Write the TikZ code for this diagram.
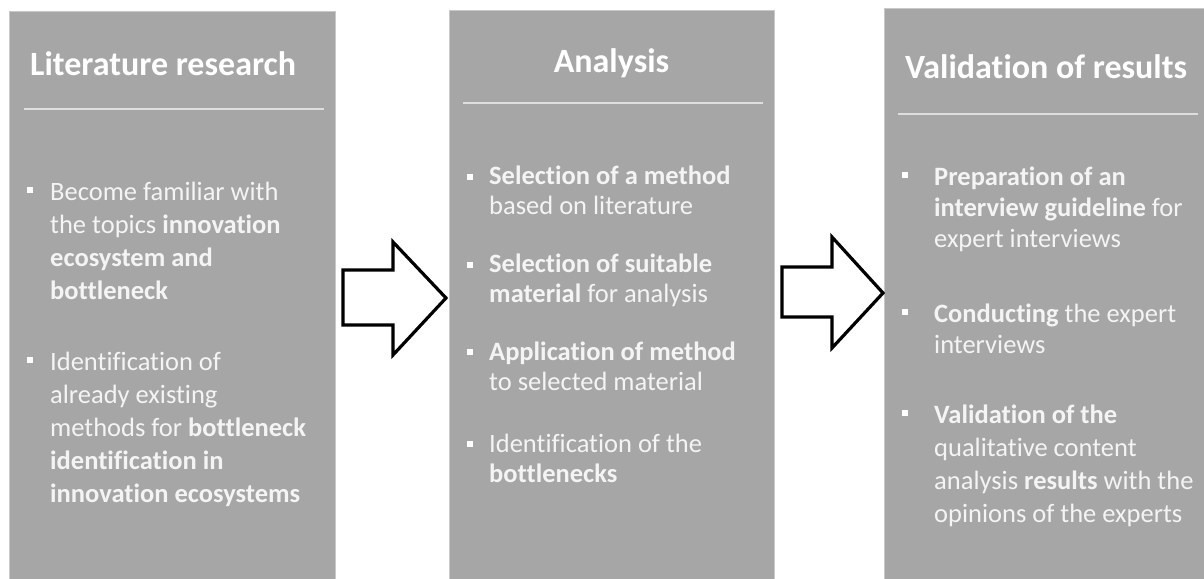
\documentclass[tikz,border=0pt]{standalone}
\usepackage{fontspec}
\setmainfont{Carlito}[Ligatures={NoCommon}]
\definecolor{panelgrey}{HTML}{A6A6A6}
\definecolor{paneledge}{HTML}{C8C8C8}
\definecolor{rulegrey}{HTML}{DEDEDE}
\definecolor{bodytext}{HTML}{F4F4F4}
\begin{document}
\begin{tikzpicture}[x=1pt,y=-1pt,
  panel/.style={fill=panelgrey, draw=paneledge, line width=0.8pt},
  title/.style={anchor=base west, inner sep=0pt, text=white,
    font=\fontsize{34}{40}\selectfont\bfseries},
  % multi-line items are placed by the baseline of their last line
  item/.style={anchor=base west, inner sep=0pt, align=left, text=bodytext,
    font=\fontsize{26.5}{33}\selectfont},
  tightitem/.style={item, font=\fontsize{26.5}{30}\selectfont},
  miditem/.style={item, font=\fontsize{26.5}{31}\selectfont},
  separator/.style={draw=rulegrey, line width=1.5pt},
  bulletsq/.style={fill=white, rectangle, minimum size=6pt, inner sep=0pt},
  blockarrow/.style={draw=black, fill=white, line width=3.2pt, line join=miter}]

\useasboundingbox (0,0) rectangle (1204,578);

% three grey panels
\path[panel] (9,11) rectangle (335,579);
\path[panel] (449,10) rectangle (774,579);
\path[panel] (884,8) rectangle (1205,579);

% headings and rules
\node[title] (t1) at (30,75) {Literature research};
\node[title, anchor=base] (t2) at (611.5,72) {Analysis};
\node[title] (t3) at (905,78) {Validation of results};
\draw[separator] (24,109) -- (324,109);
\draw[separator] (463,103) -- (763,103);
\draw[separator] (898,114) -- (1198,114);

% panel 1
\node[bulletsq] (b11) at (30,190) {};
\node[item] (i11) at (50,299) {Become familiar with\\the topics \textbf{innovation}\\\textbf{ecosystem and}\\\textbf{bottleneck}};
\node[bulletsq] (b12) at (30,360) {};
\node[item] (i12) at (50,502) {Identification of\\already existing\\methods for \textbf{bottleneck}\\\textbf{identification in}\\\textbf{innovation ecosystems}};

% panel 2
\node[bulletsq] (b21) at (469.5,177) {};
\node[tightitem] (i21) at (489,214) {\textbf{Selection of a method}\\based on literature};
\node[bulletsq] (b22) at (469.5,265) {};
\node[tightitem] (i22) at (489,302) {\textbf{Selection of suitable}\\\textbf{material} for analysis};
\node[bulletsq] (b23) at (469.5,352) {};
\node[tightitem] (i23) at (489,390) {\textbf{Application of method}\\to selected material};
\node[bulletsq] (b24) at (469.5,444) {};
\node[tightitem] (i24) at (489,482) {Identification of the\\\textbf{bottlenecks}};

% panel 3
\node[bulletsq] (b31) at (905,175) {};
\node[miditem] (i31) at (934,247) {\textbf{Preparation of an}\\\textbf{interview guideline} for\\expert interviews};
\node[bulletsq] (b32) at (905,312) {};
\node[miditem] (i32) at (934,353) {\textbf{Conducting} the expert\\interviews};
\node[bulletsq] (b33) at (905,413) {};
\node[item] (i33) at (934,522) {\textbf{Validation of the}\\qualitative content\\analysis \textbf{results} with the\\opinions of the experts};

% block arrows between the panels
\draw[blockarrow] (343,270) -- (393,270) -- (393,242) -- (446,298)
  -- (393,355) -- (393,325) -- (343,325) -- cycle;
\draw[blockarrow] (782,267) -- (832,267) -- (832,237) -- (883,293)
  -- (832,348) -- (832,317) -- (782,317) -- cycle;
\end{tikzpicture}
\end{document}
